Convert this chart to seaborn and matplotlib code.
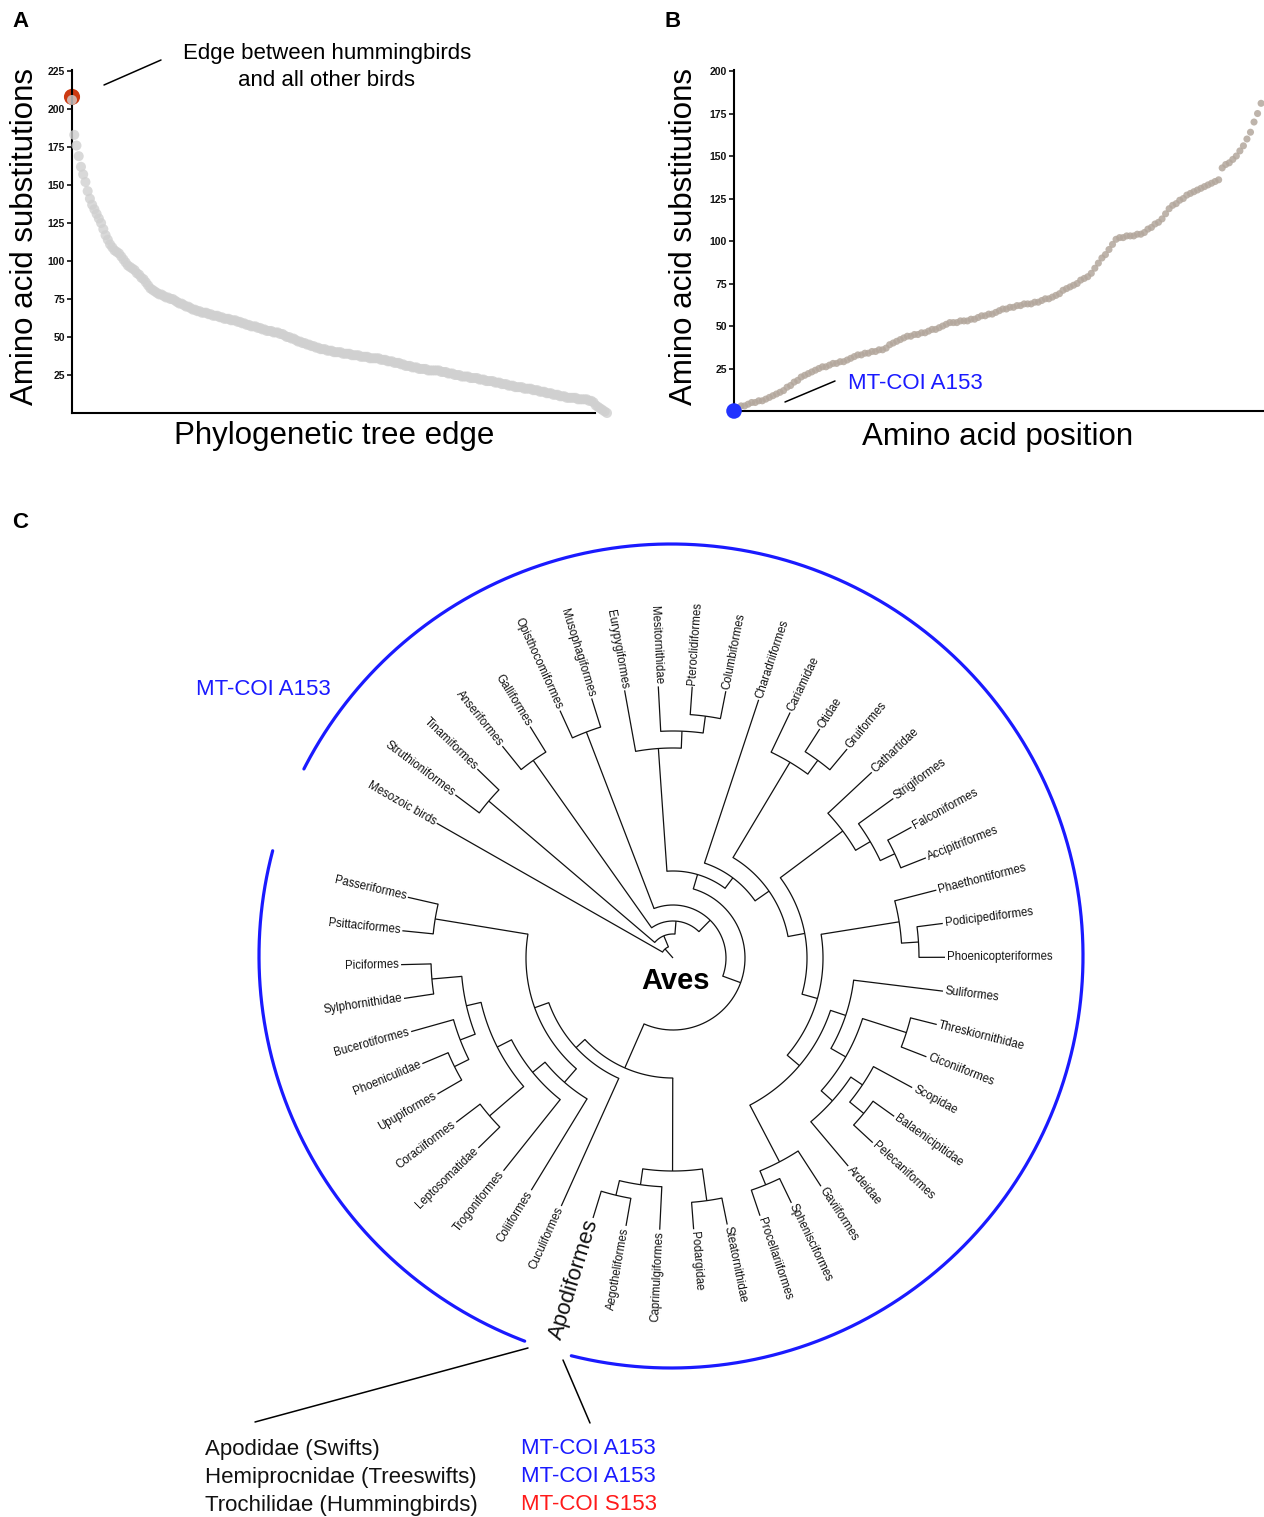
import numpy as np
import pandas as pd
import matplotlib
matplotlib.use("Agg")
import matplotlib.pyplot as plt
import seaborn as sns

# ---------------- data ----------------
# Panel A: amino acid substitutions per phylogenetic tree edge (sorted)
edge_subs = [
    206,183,176,169,162,157,152,146,141,137,134,131,128,125,121,117,114,111,109,107,
    106,105,103,101,99,97,96,95,94,92,91,89,88,86,84,82,81,80,79,78,
    78,77,76,76,75,75,74,73,72,72,71,70,70,69,68,68,67,67,66,66,
    66,65,65,64,64,64,63,63,62,62,62,61,61,61,60,60,59,59,58,58,
    57,57,57,56,56,55,55,54,54,54,53,53,53,52,52,51,50,50,49,49,
    48,47,47,46,46,45,45,44,44,43,43,42,42,42,41,41,41,40,40,40,
    40,39,39,39,39,38,38,38,38,37,37,37,37,36,36,36,36,36,35,35,
    35,34,34,34,33,33,33,32,32,31,31,31,30,30,30,29,29,29,29,28,
    28,28,28,28,28,27,27,27,26,26,26,25,25,25,24,24,24,24,23,23,
    23,23,22,22,22,21,21,21,21,20,20,20,19,19,19,18,18,18,17,17,
    17,17,16,16,16,16,15,15,15,14,14,14,13,13,13,12,12,12,11,11,
    11,10,10,10,10,10,9,9,9,9,9,8,8,7,5,4,3,2,1,0,
]
hummingbird_edge_subs = 208  # highlighted edge (rank 0)

# Panel B: amino acid substitutions per amino acid position (sorted)
position_subs = [
    0,2,3,3,4,5,5,6,6,7,8,9,10,11,12,14,15,17,18,20,
    21,22,23,24,25,26,26,27,28,28,29,29,30,31,32,33,33,34,34,35,
    35,36,36,37,39,40,41,42,43,44,44,45,45,46,46,47,48,48,49,50,
    51,52,52,52,53,53,53,54,54,55,56,56,57,57,58,59,60,60,61,61,
    62,62,63,63,63,64,64,65,66,66,67,68,69,71,72,73,74,75,77,78,
    79,81,84,87,90,92,95,98,101,102,102,103,103,103,104,104,105,107,108,110,
    111,113,116,119,121,122,124,125,127,128,129,130,131,132,133,134,135,136,143,145,
    146,148,150,153,156,160,164,170,175,181,
]
coi_a153_subs = 0

a_yticks = [25, 50, 75, 100, 125, 150, 175, 200, 225]
b_yticks = [25, 50, 75, 100, 125, 150, 175, 200]

# Panel C: tree tips in circular order and topology (node = (radius, children...))
TIP_ORDER = [
    "Mesozoic birds", "Struthioniformes", "Tinamiformes", "Anseriformes", "Galliformes",
    "Opisthocomiformes", "Musophagiformes", "Eurypygiformes", "Mesitornithidae",
    "Pteroclidiformes", "Columbiformes", "Charadriiformes", "Cariamidae", "Otidae",
    "Gruiformes", "Cathartidae", "Strigiformes", "Falconiformes", "Accipitriformes",
    "Phaethontiformes", "Podicipediformes", "Phoenicopteriformes", "Suliformes",
    "Threskiornithidae", "Ciconiiformes", "Scopidae", "Balaenicipitidae", "Pelecaniformes",
    "Ardeidae", "Gaviiformes", "Sphenisciformes", "Procellariiformes", "Steatornithidae",
    "Podargidae", "Caprimulgiformes", "Aegotheliformes", "Apodiformes", "Cuculiformes",
    "Coliiformes", "Trogoniformes", "Leptosomatidae", "Coraciiformes", "Upupiformes",
    "Phoeniculidae", "Bucerotiformes", "Sylphornithidae", "Piciformes", "Psittaciformes",
    "Passeriformes",
]

TREE = (12, "Mesozoic birds",
  (24,
    (242, "Struthioniformes", "Tinamiformes"),
    (37,
      (242, "Anseriformes", "Galliformes"),
      (53,
        (242, "Opisthocomiformes", "Musophagiformes"),
        (72,
          (87,
            (210, "Eurypygiformes", (227, "Mesitornithidae", (244, "Pteroclidiformes", "Columbiformes"))),
            (100, "Charadriiformes",
              (117, (228, "Cariamidae", (245, "Otidae", "Gruiformes")),
                (134, (212, "Cathartidae", (229, "Strigiformes", (245, "Falconiformes", "Accipitriformes"))),
                  (150, (229, "Phaethontiformes", (246, "Podicipediformes", "Phoenicopteriformes")),
                    (166,
                      (182, "Suliformes",
                        (199, (245, "Threskiornithidae", "Ciconiiformes"),
                          (214, (228, "Scopidae", (246, "Balaenicipitidae", "Pelecaniformes")), "Ardeidae"))),
                      (230, "Gaviiformes", (245, "Sphenisciformes", "Procellariiformes")))))))),
          (120,
            (213, (229, (244, "Apodiformes", "Aegotheliformes"), "Caprimulgiformes"),
                  (245, "Podargidae", "Steatornithidae")),
            (132, "Cuculiformes",
              (147,
                (165, "Coliiformes",
                  (181, "Trogoniformes",
                    (197, (242, "Leptosomatidae", "Coraciiformes"),
                      (212, (228, "Bucerotiformes", (244, "Phoeniculidae", "Upupiformes")),
                            (242, "Sylphornithidae", "Piciformes"))))),
                (241, "Psittaciformes", "Passeriformes")))))))))

# ---------------- style ----------------
sns.set_style("white")
plt.rcParams['font.family'] = ['Liberation Sans', 'DejaVu Sans']
plt.rcParams['text.color'] = 'black'
plt.rcParams['axes.labelcolor'] = 'black'
plt.rcParams['ytick.color'] = 'black'

W, H = 1264, 1517
fig = plt.figure(figsize=(W / 100, H / 100), dpi=100)
fig.patch.set_facecolor("white")


def px_axes(x0, y0, x1, y1, **kw):
    return fig.add_axes([x0 / W, 1 - y1 / H, (x1 - x0) / W, (y1 - y0) / H], **kw)


def style_axes(ax):
    for s in ["top", "right"]:
        ax.spines[s].set_visible(False)
    for s in ["left", "bottom"]:
        ax.spines[s].set_linewidth(1.5)
        ax.spines[s].set_color("black")
    ax.set_xticks([])
    ax.tick_params(axis="y", direction="out", length=3.5, width=1.2,
                   labelsize=7.5, pad=1.5, colors="#111111", left=True)
    for t in ax.get_yticklabels():
        t.set_fontweight("bold")
    ax.set_xlabel("")
    ax.set_ylabel("")
    ax.grid(False)


# ---------------- Panel A ----------------
axA = px_axes(72, 70, 607, 413)
dfA = pd.DataFrame({"edge": np.arange(len(edge_subs)), "subs": edge_subs})
sns.scatterplot(x=[0], y=[hummingbird_edge_subs], ax=axA, s=135, color="#cc3a12",
                edgecolor="none", clip_on=False, legend=False, zorder=2)
sns.scatterplot(data=dfA, x="edge", y="subs", ax=axA, s=52, color="#d0d0d0",
                edgecolor="none", alpha=0.8, clip_on=False, legend=False, zorder=3)
axA.set_xlim(0, len(edge_subs) - 1)
axA.set_ylim(0, 225.7)
axA.set_yticks(a_yticks)
style_axes(axA)
axA.spines["bottom"].set_bounds(0, 233.6)

# ---------------- Panel B ----------------
axB = px_axes(734, 70, 1266, 411)
dfB = pd.DataFrame({"pos": np.arange(len(position_subs)), "subs": position_subs})
sns.scatterplot(data=dfB, x="pos", y="subs", ax=axB, s=26, color="#b3a79c",
                edgecolor="none", alpha=0.85, clip_on=False, legend=False, zorder=2)
sns.scatterplot(x=[0], y=[coi_a153_subs], ax=axB, s=125, color="#2233ff",
                edgecolor="none", clip_on=False, legend=False, zorder=3)
axB.set_xlim(0, (len(position_subs) - 1) * 532 / 527.1)
axB.set_ylim(0, 200.6)
axB.set_yticks(b_yticks)
style_axes(axB)

# ---------------- Overlay (pixel coordinates) ----------------
ax = fig.add_axes([0, 0, 1, 1], zorder=5)
ax.set_xlim(0, W)
ax.set_ylim(H, 0)
ax.axis("off")
ax.patch.set_alpha(0)

BIG = 16
# panel letters
for letter, (x, y) in {"A": (12, 21), "B": (665, 21), "C": (12, 522)}.items():
    ax.text(x, y, letter, fontsize=16, fontweight="bold", ha="left", va="center", color="black")

# axis labels
ax.text(25, 236, "Amino acid substitutions", rotation=90, fontsize=22.5, ha="center", va="center")
ax.text(334, 436, "Phylogenetic tree edge", fontsize=22.5, ha="center", va="center")
ax.text(684, 236, "Amino acid substitutions", rotation=90, fontsize=22.5, ha="center", va="center")
ax.text(998, 437, "Amino acid position", fontsize=22.5, ha="center", va="center")

# annotations A / B
ax.text(327, 67, "Edge between hummingbirds\nand all other birds", fontsize=BIG,
        ha="center", va="center", linespacing=1.35)
ax.plot([104, 161], [85, 60], color="black", lw=1.1)
ax.text(848, 383, "MT-COI A153", fontsize=BIG, color="#1a1aff", ha="left", va="center")
ax.plot([785, 835], [402, 381], color="black", lw=1.1)

# ---------------- Panel C tree ----------------
CX, CY = 673, 958
TIP_R, LABEL_R = 272, 274
START_ANGLE, STEP = 150.3, 7.15
tip_angle = {n: START_ANGLE - STEP * i for i, n in enumerate(TIP_ORDER)}
LC, LW = "#111111", 0.9


def pol(r, th):
    t = np.deg2rad(th)
    return CX + r * np.cos(t), CY - r * np.sin(t)


def radial(r0, r1, th):
    x0, y0 = pol(r0, th)
    x1, y1 = pol(r1, th)
    ax.plot([x0, x1], [y0, y1], color=LC, lw=LW, solid_capstyle="butt")


def arc(r, a0, a1):
    th = np.linspace(a0, a1, max(2, int(abs(a1 - a0) * 2)))
    x, y = pol(r, th)
    ax.plot(x, y, color=LC, lw=LW)


def label(name, th):
    x, y = pol(LABEL_R, th)
    left_side = np.cos(np.deg2rad(th)) < 0
    rot = th - 180 if left_side else th
    rot = (rot + 180) % 360 - 180
    fs = BIG if name == "Apodiformes" else 8.3
    ax.text(x, y, name, rotation=rot, rotation_mode="anchor", fontsize=fs,
            ha="right" if left_side else "left", va="center", color=LC)


def draw(node, parent_r):
    if isinstance(node, str):
        th = tip_angle[node]
        radial(parent_r, TIP_R, th)
        label(node, th)
        return th
    r, *kids = node
    angs = [draw(k, r) for k in kids]
    lo, hi = min(angs), max(angs)
    arc(r, lo, hi)
    th = (lo + hi) / 2
    radial(parent_r, r, th)
    return th


draw(TREE, 0)
ax.text(676, 981, "Aves", fontsize=21, fontweight="bold", ha="center", va="center", color="black")

# blue arcs (MT-COI A153 clades)
BCX, BCY, BR = 671, 956, 412
for a0, a1 in [(256.0, 513.0), (165.2, 249.2)]:
    th = np.deg2rad(np.linspace(a0, a1, 400))
    ax.plot(BCX + BR * np.cos(th), BCY - BR * np.sin(th), color="#1a1aff", lw=2.3)
ax.text(263, 689, "MT-COI A153", fontsize=BIG, color="#1a1aff", ha="center", va="center")

# Apodiformes breakdown
ax.plot([528, 255], [1348, 1422], color="black", lw=1.1)
ax.plot([563, 590], [1360, 1423], color="black", lw=1.1)
families = ["Apodidae (Swifts)", "Hemiprocnidae (Treeswifts)", "Trochilidae (Hummingbirds)"]
residues = ["MT-COI A153", "MT-COI A153", "MT-COI S153"]
res_colors = ["#1a1aff", "#1a1aff", "#ff1a1a"]
for k, (fam, res, col) in enumerate(zip(families, residues, res_colors)):
    yy = 1449 + 28 * k
    ax.text(205, yy, fam, fontsize=BIG, ha="left", va="center", color="#111111")
    ax.text(521, yy, res, fontsize=BIG, ha="left", va="center", color=col)

fig.savefig("out.png", dpi=100, facecolor="white")
